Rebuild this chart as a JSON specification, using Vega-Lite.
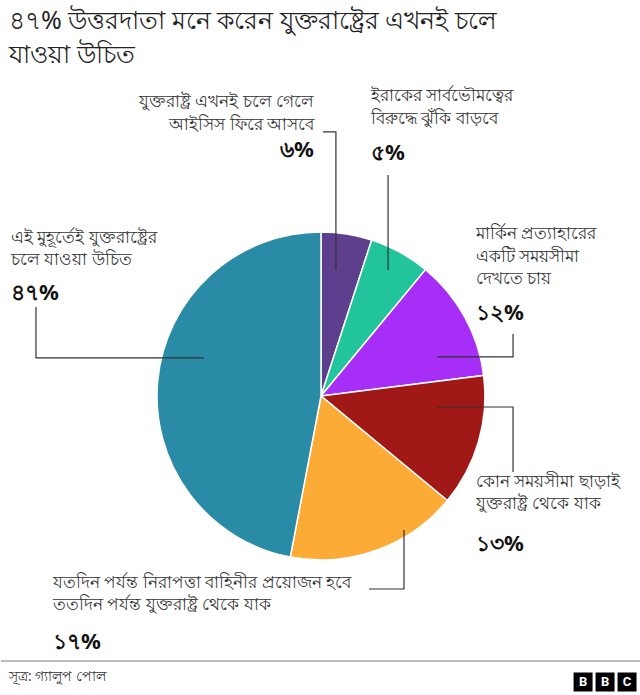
{
  "$schema": "https://vega.github.io/schema/vega-lite/v6.json",
  "width": 640,
  "height": 615,
  "padding": {"top": 9, "left": 0, "right": 0, "bottom": 0},
  "autosize": {"type": "pad"},
  "background": "white",
  "title": {
    "text": ["৪৭% উত্তরদাতা মনে করেন যুক্তরাষ্ট্রের এখনই চলে", "যাওয়া উচিত"],
    "anchor": "start",
    "frame": "group",
    "font": "Noto Sans",
    "fontSize": 25,
    "fontWeight": "normal",
    "color": "#222222",
    "lineHeight": 34,
    "dx": 8,
    "offset": 14
  },
  "config": {
    "view": {"stroke": null},
    "text": {"font": "Noto Sans", "lineBreak": "\n"}
  },
  "datasets": {
    "slices": [
      {"group": "ISIS returns", "pct": 5, "sira": 1},
      {"group": "Sovereignty risk", "pct": 6, "sira": 2},
      {"group": "Timeline", "pct": 12, "sira": 3},
      {"group": "Stay no timeline", "pct": 13, "sira": 4},
      {"group": "Stay as needed", "pct": 17, "sira": 5},
      {"group": "Leave now", "pct": 47, "sira": 6}
    ],
    "labels": [
      {"id": "a", "text": "যুক্তরাষ্ট্র এখনই চলে গেলে\nআইসিস ফিরে আসবে", "share": "৬%", "x": -0.043, "y": -1.840, "py": -1.560},
      {"id": "b", "text": "ইরাকের সার্বভৌমত্বের\nবিরুদ্ধে ঝুঁকি বাড়বে", "share": "৫%", "x": 0.305, "y": -1.875, "py": -1.545},
      {"id": "c", "text": "এই মুহূর্তেই যুক্তরাষ্ট্রের\nচলে যাওয়া উচিত", "share": "৪৭%", "x": -1.890, "y": -1.015, "py": -0.690},
      {"id": "d", "text": "মার্কিন প্রত্যাহারের\nএকটি সময়সীমা\nদেখতে চায়", "share": "১২%", "x": 0.945, "y": -1.035, "py": -0.568},
      {"id": "e", "text": "কোন সময়সীমা ছাড়াই\nযুক্তরাষ্ট্র থেকে যাক", "share": "১৩%", "x": 0.945, "y": 0.475, "py": 0.842},
      {"id": "f", "text": "যতদিন পর্যন্ত নিরাপত্তা বাহিনীর প্রয়োজন হবে\nততদিন পর্যন্ত যুক্তরাষ্ট্র থেকে যাক", "share": "১৭%", "x": -1.634, "y": 1.090, "py": 1.440}
    ],
    "leaders": [
      {"id": "a", "k": 1, "x": 0.012, "y": -1.610},
      {"id": "a", "k": 2, "x": 0.091, "y": -1.610},
      {"id": "a", "k": 3, "x": 0.091, "y": -0.768},
      {"id": "b", "k": 1, "x": 0.409, "y": -1.348},
      {"id": "b", "k": 2, "x": 0.409, "y": -0.768},
      {"id": "c", "k": 1, "x": -1.738, "y": -0.543},
      {"id": "c", "k": 2, "x": -1.738, "y": -0.232},
      {"id": "c", "k": 3, "x": -0.713, "y": -0.232},
      {"id": "d", "k": 1, "x": 1.171, "y": -0.378},
      {"id": "d", "k": 2, "x": 1.171, "y": -0.238},
      {"id": "d", "k": 3, "x": 0.707, "y": -0.238},
      {"id": "e", "k": 1, "x": 0.707, "y": 0.067},
      {"id": "e", "k": 2, "x": 1.171, "y": 0.067},
      {"id": "e", "k": 3, "x": 1.171, "y": 0.463},
      {"id": "f", "k": 1, "x": 0.293, "y": 1.177},
      {"id": "f", "k": 2, "x": 0.506, "y": 1.177},
      {"id": "f", "k": 3, "x": 0.506, "y": 0.817}
    ],
    "logo": [
      {"letter": "B", "x": 1.598, "y": 1.744},
      {"letter": "B", "x": 1.732, "y": 1.744},
      {"letter": "C", "x": 1.866, "y": 1.744}
    ]
  },
  "encoding": {
    "x": {"type": "quantitative", "scale": {"domain": [-1.9512, 1.9512], "nice": false, "zero": false}, "axis": null},
    "y": {"type": "quantitative", "scale": {"domain": [-1.9146, 1.8354], "nice": false, "zero": false, "reverse": true}, "axis": null}
  },
  "layer": [
    {
      "data": {"name": "slices"},
      "mark": {"type": "arc", "radius": 164, "stroke": "white", "strokeWidth": 1.5},
      "encoding": {
        "x": {"datum": 0, "type": "quantitative"},
        "y": {"datum": 0, "type": "quantitative"},
        "theta": {"field": "pct", "type": "quantitative", "stack": true},
        "order": {"field": "sira", "type": "quantitative"},
        "color": {
          "field": "group",
          "type": "nominal",
          "scale": {
            "domain": ["ISIS returns", "Sovereignty risk", "Timeline", "Stay no timeline", "Stay as needed", "Leave now"],
            "range": ["#5d3f8d", "#22c49b", "#a72ef7", "#a11916", "#fcab36", "#2a8ba7"]
          },
          "legend": null
        }
      }
    },
    {
      "data": {"name": "leaders"},
      "mark": {"type": "line", "color": "#333333", "strokeWidth": 1.2},
      "encoding": {
        "x": {"field": "x", "type": "quantitative"},
        "y": {"field": "y", "type": "quantitative"},
        "detail": {"field": "id"},
        "order": {"field": "k", "type": "quantitative"}
      }
    },
    {
      "data": {"name": "labels"},
      "transform": [{"filter": "datum.id === 'a'"}],
      "mark": {"type": "text", "align": "right", "baseline": "top", "fontSize": 17, "lineHeight": 22.5, "color": "#333333"},
      "encoding": {
        "x": {"field": "x", "type": "quantitative"},
        "y": {"field": "y", "type": "quantitative"},
        "text": {"field": "text"}
      }
    },
    {
      "data": {"name": "labels"},
      "transform": [{"filter": "datum.id !== 'a'"}],
      "mark": {"type": "text", "align": "left", "baseline": "top", "fontSize": 17, "lineHeight": 22.5, "color": "#333333"},
      "encoding": {
        "x": {"field": "x", "type": "quantitative"},
        "y": {"field": "y", "type": "quantitative"},
        "text": {"field": "text"}
      }
    },
    {
      "data": {"name": "labels"},
      "transform": [{"filter": "datum.id === 'a'"}],
      "mark": {"type": "text", "align": "right", "baseline": "top", "fontSize": 22, "fontWeight": "bold", "color": "#111111"},
      "encoding": {
        "x": {"field": "x", "type": "quantitative"},
        "y": {"field": "py", "type": "quantitative"},
        "text": {"field": "share"}
      }
    },
    {
      "data": {"name": "labels"},
      "transform": [{"filter": "datum.id !== 'a'"}],
      "mark": {"type": "text", "align": "left", "baseline": "top", "fontSize": 22, "fontWeight": "bold", "color": "#111111"},
      "encoding": {
        "x": {"field": "x", "type": "quantitative"},
        "y": {"field": "py", "type": "quantitative"},
        "text": {"field": "share"}
      }
    },
    {
      "data": {"values": [{}]},
      "mark": {"type": "rule", "color": "#7a7a7a", "strokeWidth": 1},
      "encoding": {
        "x": {"datum": -1.9512, "type": "quantitative"},
        "x2": {"datum": 1.9512},
        "y": {"datum": 1.616, "type": "quantitative"}
      }
    },
    {
      "data": {"values": [{"source": "সূত্র: গ্যালুপ পোল"}]},
      "mark": {"type": "text", "align": "left", "baseline": "middle", "fontSize": 13.5, "color": "#333333"},
      "encoding": {
        "x": {"datum": -1.902, "type": "quantitative"},
        "y": {"datum": 1.712, "type": "quantitative"},
        "text": {"field": "source"}
      }
    },
    {
      "data": {"name": "logo"},
      "mark": {"type": "point", "shape": "square", "filled": true, "size": 361, "color": "#000000", "opacity": 1},
      "encoding": {
        "x": {"field": "x", "type": "quantitative"},
        "y": {"field": "y", "type": "quantitative"}
      }
    },
    {
      "data": {"name": "logo"},
      "mark": {"type": "text", "align": "center", "baseline": "middle", "fontSize": 13, "fontWeight": "bold", "color": "#ffffff", "font": "Roboto"},
      "encoding": {
        "x": {"field": "x", "type": "quantitative"},
        "y": {"field": "y", "type": "quantitative"},
        "text": {"field": "letter"}
      }
    }
  ]
}
